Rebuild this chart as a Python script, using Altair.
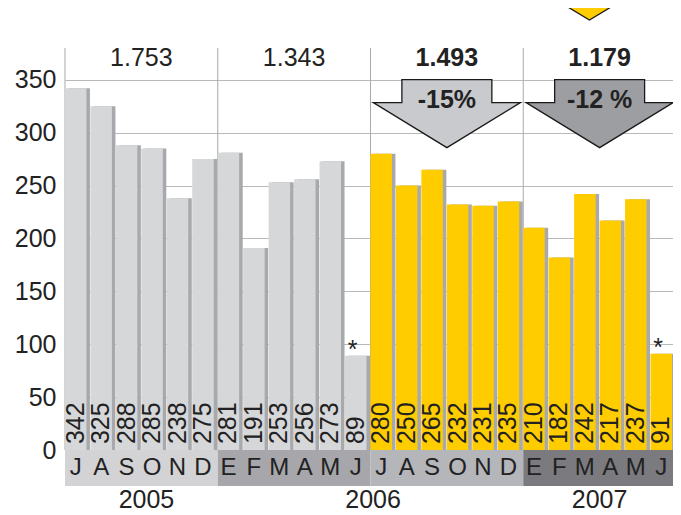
import altair as alt
import pandas as pd

# ---------------- data ----------------
months = list("JASOND") + list("EFMAMJ") + list("JASOND") + list("EFMAMJ")
values = [342, 325, 288, 285, 238, 275, 281, 191, 253, 256, 273, 89,
          280, 250, 265, 232, 231, 235, 210, 182, 242, 217, 237, 91]
season = ["2005/06"] * 12 + ["2006/07"] * 12
partial = [False] * 11 + [True] + [False] * 11 + [True]

group_totals = ["1.753", "1.343", "1.493", "1.179"]
group_bold = [False, False, True, True]
band_colors = ["#d3d3d5", "#a7a7ab", "#b5b6ba", "#7b7b7f"]

change_labels = ["-15%", "-12 %"]
change_groups = [2, 3]
change_fills = ["#c9cacd", "#9d9ea2"]

years = ["2005", "2006", "2007"]
year_slots = [3.2, 12.1, 21]

season_colors = {"2005/06": "#d6d7d9", "2006/07": "#ffcc00"}

FONT = "Liberation Sans"
INK = "#222222"

# ---------------- tables ----------------
bars = pd.DataFrame({
    "idx": range(len(values)),
    "month": months,
    "value": values,
    "season": season,
    "partial": partial,
})
bars["pos"] = bars["idx"] + 0.42
bars["color"] = bars["season"].map(season_colors)
bars["label"] = bars["value"].astype(str)

groups = pd.DataFrame({
    "g": range(4),
    "total": group_totals,
    "bold": group_bold,
    "band": band_colors,
})
groups["start"] = groups["g"] * 6
groups["end"] = groups["start"] + 6
groups["mid"] = groups["start"] + 3

changes = pd.DataFrame({"label": change_labels, "g": change_groups, "fill": change_fills})
changes["mid"] = changes["g"] * 6 + 3

yrs = pd.DataFrame({"year": years, "pos": year_slots})

# the band runs slightly off the right edge of the page, as in the original
xs = alt.Scale(domain=[0, 24], range=[0, 611], nice=False, zero=False, padding=0)
ys = alt.Scale(domain=[-34, 380], nice=False, zero=False, padding=0)

YAXIS = alt.Axis(values=[0, 50, 100, 150, 200, 250, 300, 350],
                 grid=True, gridColor="#b9b9b9", gridWidth=1,
                 domain=False, ticks=False, labelPadding=9,
                 labelFont=FONT, labelFontSize=25, labelColor=INK,
                 title=None)

X = lambda f: alt.X(f, type="quantitative", scale=xs, axis=None)
Y = lambda f: alt.Y(f, type="quantitative", scale=ys, axis=YAXIS)

# vertical separators
seps = alt.Chart(groups).transform_calculate(y0="0", y1="380").mark_rule(
    color="#a9a9a9", strokeWidth=1).encode(
    x=X("start"), y=Y("y0"), y2="y1",
)

shadow = alt.Chart(bars).transform_calculate(y0="0").mark_bar(
    width=21.5, xOffset=3.5, color="#a8a9ad").encode(
    x=X("pos"), y=Y("value"), y2="y0",
)

main = alt.Chart(bars).transform_calculate(y0="0").mark_bar(width=21.5).encode(
    x=X("pos"), y=Y("value"), y2="y0",
    color=alt.Color("color:N", scale=None),
)

band = alt.Chart(groups).transform_calculate(y0="0", y1="-34").mark_rect().encode(
    x=X("start"), x2="end", y=Y("y0"), y2="y1",
    color=alt.Color("band:N", scale=None),
)

letters = alt.Chart(bars).transform_calculate(ly="-17").mark_text(
    font=FONT, fontSize=24, color=INK, baseline="middle", align="center").encode(
    x=X("pos"), y=Y("ly"), text="month:N",
)

bar_labels = alt.Chart(bars).transform_calculate(y0="0").mark_text(
    font=FONT, fontSize=25, color=INK, angle=270,
    align="left", baseline="middle", dx=6).encode(
    x=X("pos"), y=Y("y0"), text="label:N",
)

stars = alt.Chart(bars).transform_filter("datum.partial").mark_text(
    font=FONT, fontSize=25, color=INK, baseline="alphabetic", dx=-3, dy=2, text="*"
).encode(
    x=X("pos"), y=Y("value"),
)

totals_plain = alt.Chart(groups).transform_filter("!datum.bold").transform_calculate(
    ty="371").mark_text(font=FONT, fontSize=25, color=INK, baseline="middle").encode(
    x=X("mid"), y=Y("ty"), text="total:N",
)
totals_bold = alt.Chart(groups).transform_filter("datum.bold").transform_calculate(
    ty="371").mark_text(font=FONT, fontSize=25, fontWeight="bold", color=INK,
                        baseline="middle").encode(
    x=X("mid"), y=Y("ty"), text="total:N",
)

ARROW = "M-0.612,-0.463 L0.612,-0.463 L0.612,-0.15 L1,-0.15 L0,0.463 L-1,-0.15 L-0.612,-0.15 Z"
arrows = alt.Chart(changes).transform_calculate(ay="318").mark_point(
    shape=ARROW, size=21609, filled=True, opacity=1,
    stroke="#1a1a1a", strokeWidth=1.3).encode(
    x=X("mid"), y=Y("ay"),
    fill=alt.Fill("fill:N", scale=None),
)

arrow_text = alt.Chart(changes).transform_calculate(ty="331").mark_text(
    font=FONT, fontSize=25, fontWeight="bold", color=INK, baseline="middle").encode(
    x=X("mid"), y=Y("ty"), text="label:N",
)

year_text = alt.Chart(yrs).transform_calculate(ty="-47").mark_text(
    font=FONT, fontSize=25, color=INK, baseline="middle").encode(
    x=X("pos"), y=Y("ty"), text="year:N",
)

TRI = "M-1,-0.6 L1,-0.6 L0,0 Z"
top_tri = alt.Chart(pd.DataFrame({"p": [20.6], "ty": [406.5]})).mark_point(
    shape=TRI, size=10000, filled=True, opacity=1, fill="#ffcc00",
    stroke="#1a1a1a", strokeWidth=1.3
).encode(
    x=X("p"), y=Y("ty"),
)

chart = alt.layer(
    seps, shadow, main, band, letters, bar_labels, stars, totals_plain, totals_bold,
    arrows, arrow_text, year_text, top_tri
).properties(
    width=608, height=438,
    autosize=alt.AutoSizeParams(type="none"),
    padding={"left": 57, "top": 40, "right": 0, "bottom": 29},
    background="white",
).configure_view(stroke=None)

chart.save("out.html", embed_options={"renderer": "svg", "actions": False})
